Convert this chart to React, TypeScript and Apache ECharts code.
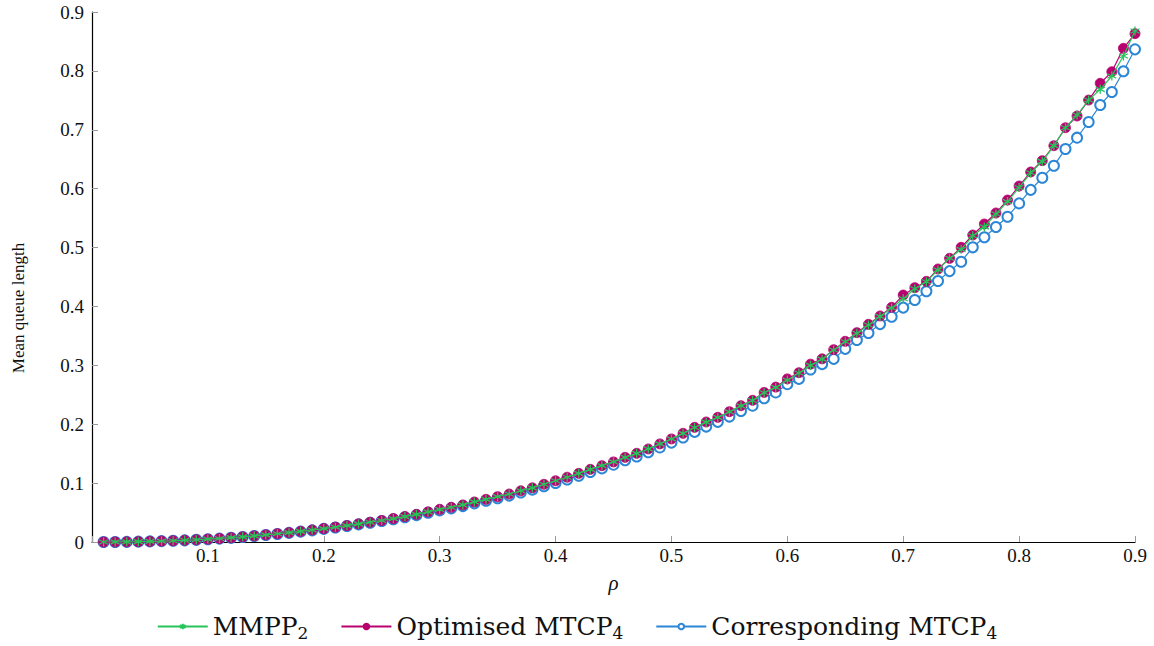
import React, { useEffect, useRef } from "react";
import * as echarts from "echarts";

const rho = [
  0.01, 0.02, 0.03, 0.04, 0.05, 0.06, 0.07, 0.08, 0.09, 0.1,
  0.11, 0.12, 0.13, 0.14, 0.15, 0.16, 0.17, 0.18, 0.19, 0.2,
  0.21, 0.22, 0.23, 0.24, 0.25, 0.26, 0.27, 0.28, 0.29, 0.3,
  0.31, 0.32, 0.33, 0.34, 0.35, 0.36, 0.37, 0.38, 0.39, 0.4,
  0.41, 0.42, 0.43, 0.44, 0.45, 0.46, 0.47, 0.48, 0.49, 0.5,
  0.51, 0.52, 0.53, 0.54, 0.55, 0.56, 0.57, 0.58, 0.59, 0.6,
  0.61, 0.62, 0.63, 0.64, 0.65, 0.66, 0.67, 0.68, 0.69, 0.7,
  0.71, 0.72, 0.73, 0.74, 0.75, 0.76, 0.77, 0.78, 0.79, 0.8,
  0.81, 0.82, 0.83, 0.84, 0.85, 0.86, 0.87, 0.88, 0.89, 0.9,
];

const optimised = [
  0.0000, 0.0001, 0.0003, 0.0006, 0.0010, 0.0015, 0.0021, 0.0029, 0.0038, 0.0049,
  0.0060, 0.0073, 0.0088, 0.0104, 0.0122, 0.0140, 0.0159, 0.0181, 0.0204, 0.0228,
  0.0252, 0.0279, 0.0307, 0.0336, 0.0365, 0.0398, 0.0432, 0.0470, 0.0512, 0.0555,
  0.0590, 0.0630, 0.0680, 0.0725, 0.0770, 0.0815, 0.0870, 0.0920, 0.0980, 0.1040,
  0.1100, 0.1166, 0.1234, 0.1296, 0.1360, 0.1438, 0.1506, 0.1580, 0.1666, 0.1750,
  0.1845, 0.1947, 0.2038, 0.2117, 0.2213, 0.2315, 0.2406, 0.2540, 0.2630, 0.2770,
  0.2875, 0.3020, 0.3110, 0.3266, 0.3408, 0.3555, 0.3696, 0.3838, 0.3985, 0.4194,
  0.4319, 0.4426, 0.4636, 0.4817, 0.5004, 0.5213, 0.5400, 0.5587, 0.5807, 0.6045,
  0.6283, 0.6475, 0.6730, 0.7035, 0.7234, 0.7505, 0.7789, 0.7986, 0.8383, 0.8632,
];

const mmpp2 = [
  0.0000, 0.0001, 0.0003, 0.0006, 0.0010, 0.0015, 0.0021, 0.0029, 0.0038, 0.0049,
  0.0060, 0.0073, 0.0088, 0.0104, 0.0122, 0.0140, 0.0159, 0.0181, 0.0204, 0.0228,
  0.0252, 0.0279, 0.0307, 0.0336, 0.0365, 0.0398, 0.0432, 0.0470, 0.0512, 0.0555,
  0.0590, 0.0630, 0.0680, 0.0725, 0.0770, 0.0815, 0.0870, 0.0920, 0.0980, 0.1040,
  0.1100, 0.1166, 0.1234, 0.1296, 0.1360, 0.1438, 0.1506, 0.1580, 0.1666, 0.1750,
  0.1845, 0.1945, 0.2035, 0.2115, 0.2210, 0.2312, 0.2403, 0.2535, 0.2625, 0.2750,
  0.2870, 0.3000, 0.3105, 0.3260, 0.3400, 0.3545, 0.3685, 0.3830, 0.3975, 0.4130,
  0.4300, 0.4420, 0.4620, 0.4820, 0.4970, 0.5200, 0.5350, 0.5570, 0.5780, 0.6020,
  0.6270, 0.6464, 0.6730, 0.7035, 0.7251, 0.7505, 0.7687, 0.7913, 0.8253, 0.8677,
];

const corresponding = [
  0.0000, 0.0001, 0.0003, 0.0006, 0.0010, 0.0015, 0.0021, 0.0028, 0.0037, 0.0047,
  0.0058, 0.0071, 0.0085, 0.0101, 0.0118, 0.0136, 0.0155, 0.0176, 0.0198, 0.0222,
  0.0246, 0.0272, 0.0299, 0.0327, 0.0356, 0.0387, 0.0420, 0.0456, 0.0496, 0.0537,
  0.0571, 0.0610, 0.0656, 0.0700, 0.0744, 0.0788, 0.0840, 0.0889, 0.0946, 0.1003,
  0.1061, 0.1124, 0.1189, 0.1250, 0.1313, 0.1388, 0.1453, 0.1524, 0.1606, 0.1688,
  0.1775, 0.1870, 0.1960, 0.2040, 0.2130, 0.2225, 0.2315, 0.2440, 0.2540, 0.2680,
  0.2770, 0.2930, 0.3020, 0.3110, 0.3280, 0.3430, 0.3550, 0.3700, 0.3826, 0.3980,
  0.4110, 0.4257, 0.4432, 0.4600, 0.4760, 0.5004, 0.5174, 0.5350, 0.5524, 0.5750,
  0.5980, 0.6186, 0.6390, 0.6673, 0.6866, 0.7132, 0.7420, 0.7641, 0.7993, 0.8366,
];

const GREEN = "#27c45a";
const MAGENTA = "#b8006f";
const BLUE = "#2b86d6";
const FONT = "Liberation Serif";
const LEGEND_FONT = "DejaVu Serif";

const starPath =
  "path://M0,-10 L0,10 M-8.66,-5 L8.66,5 M-8.66,5 L8.66,-5";

function pairs(ys: number[]) {
  return rho.map((x, i) => [x, ys[i]]);
}

function fmt(v: number) {
  if (Math.abs(v) < 1e-9) return "0";
  return String(Math.round(v * 10) / 10);
}

export default function App() {
  const ref = useRef<HTMLDivElement>(null);
  useEffect(() => {
    if (!ref.current) return;
    const chart = echarts.init(ref.current, null, { renderer: "svg" });
    chart.setOption({
      animation: false,
      backgroundColor: "#ffffff",
      textStyle: { fontFamily: FONT },
      grid: { left: 92, right: 19, top: 12, bottom: 104, containLabel: false },
      graphic: [
        {
          type: "text",
          x: 18,
          y: 308,
          rotation: Math.PI / 2,
          style: {
            text: "Mean queue length",
            fontFamily: FONT,
            fontSize: 17,
            fill: "#111",
            align: "center",
            verticalAlign: "middle",
          },
        },
      ],
      legend: {
        bottom: 0,
        left: "center",
        itemWidth: 50,
        itemHeight: 7,
        itemGap: 32,
        textStyle: {
          fontFamily: LEGEND_FONT,
          fontSize: 25,
          color: "#111",
          rich: {
            t: { fontFamily: LEGEND_FONT, fontSize: 25, color: "#111" },
            sub: { fontFamily: LEGEND_FONT, fontSize: 17, color: "#111", padding: [12, 0, 0, 0] },
          },
        },
        formatter: (name: string) => {
          if (name === "MMPP2") return "{t|MMPP}{sub|2}";
          if (name === "Optimised MTCP4") return "{t|Optimised MTCP}{sub|4}";
          return "{t|Corresponding MTCP}{sub|4}";
        },
        data: ["MMPP2", "Optimised MTCP4", "Corresponding MTCP4"],
      },
      xAxis: {
        type: "value",
        min: 0,
        max: 0.9,
        interval: 0.1,
        name: "ρ",
        nameLocation: "middle",
        nameGap: 30,
        nameTextStyle: { fontFamily: FONT, fontSize: 21, fontStyle: "italic", color: "#111" },
        axisLine: { show: true, onZero: false, lineStyle: { color: "#000", width: 1.2 } },
        axisTick: { show: true, inside: true, length: 6, lineStyle: { color: "#999" } },
        axisLabel: {
          fontFamily: FONT,
          fontSize: 19,
          color: "#111",
          margin: 4,
          formatter: (v: number) => (v > 0.05 ? fmt(v) : ""),
        },
        splitLine: { show: false },
      },
      yAxis: {
        type: "value",
        min: 0,
        max: 0.9,
        interval: 0.1,
        axisLine: { show: true, onZero: false, lineStyle: { color: "#000", width: 1.2 } },
        axisTick: { show: true, inside: true, length: 6, lineStyle: { color: "#999" } },
        axisLabel: {
          fontFamily: FONT,
          fontSize: 19,
          color: "#111",
          margin: 8,
          formatter: (v: number) => fmt(v),
        },
        splitLine: { show: false },
      },
      series: [
        {
          name: "MMPP2",
          type: "line",
          data: pairs(mmpp2),
          z: 5,
          symbol: starPath,
          symbolSize: 9,
          showAllSymbol: true,
          lineStyle: { color: GREEN, width: 1.2 },
          itemStyle: { color: "rgba(0,0,0,0)", borderColor: GREEN, borderWidth: 1.3 },
          emphasis: { disabled: true },
        },
        {
          name: "Optimised MTCP4",
          type: "line",
          data: pairs(optimised),
          z: 4,
          symbol: "circle",
          symbolSize: 10,
          showAllSymbol: true,
          lineStyle: { color: MAGENTA, width: 1.2 },
          itemStyle: { color: MAGENTA, borderColor: MAGENTA, borderWidth: 0.8 },
          emphasis: { disabled: true },
        },
        {
          name: "Corresponding MTCP4",
          type: "line",
          data: pairs(corresponding),
          z: 3,
          symbol: "emptyCircle",
          symbolSize: 10,
          showAllSymbol: true,
          lineStyle: { color: BLUE, width: 1.2 },
          itemStyle: { color: BLUE, borderColor: BLUE, borderWidth: 1.2 },
          emphasis: { disabled: true },
        },
      ],
    });
    return () => chart.dispose();
  }, []);
  return <div ref={ref} style={{ width: 1154, height: 646, position: "absolute", left: 0, top: 0 }} />;
}
